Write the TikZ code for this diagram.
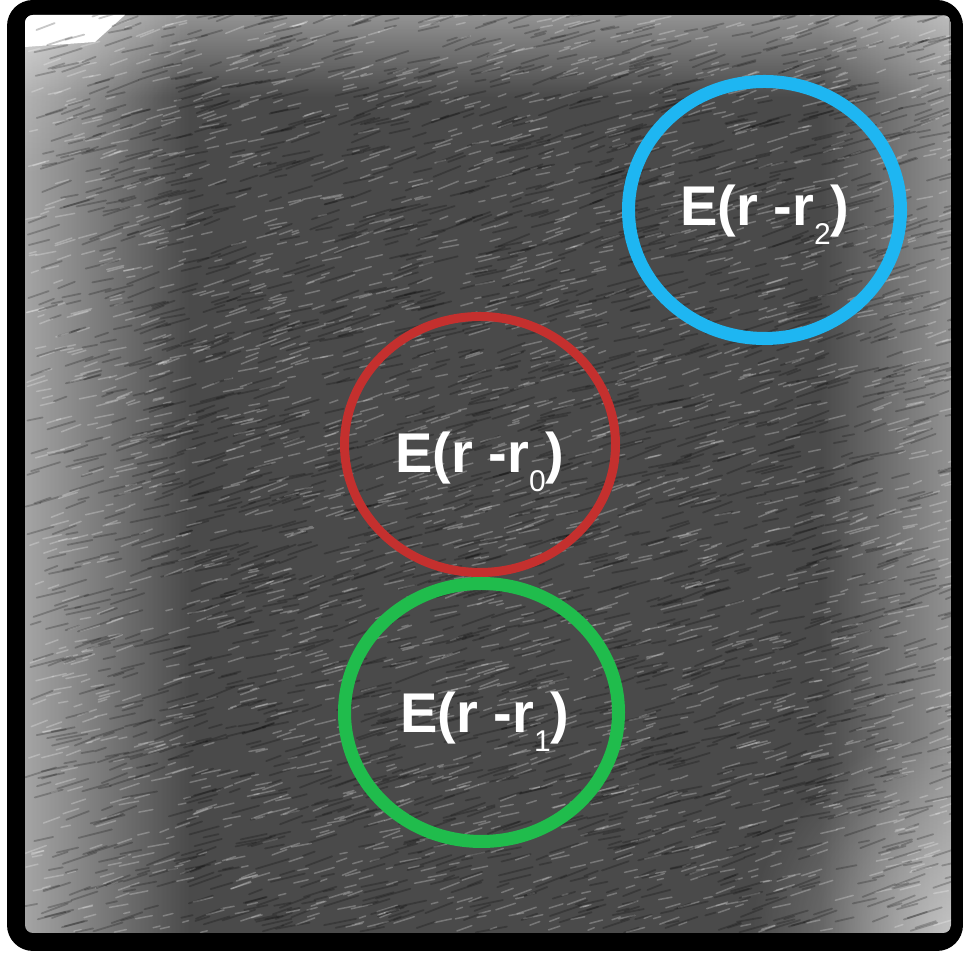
\documentclass[tikz,border=0pt]{standalone}
\usepackage{fontspec}
\setmainfont{Liberation Sans}
\usetikzlibrary{fadings}

\definecolor{bluering}{HTML}{1EB6F2}
\definecolor{redring}{HTML}{C4302E}
\definecolor{greenring}{HTML}{20BC4C}

\tikzfading[name=fadetoright, left color=transparent!0, right color=transparent!100]
\tikzfading[name=fadetoleft, left color=transparent!100, right color=transparent!0]
\tikzfading[name=fadedown, top color=transparent!0, bottom color=transparent!100]
\tikzfading[name=softspot, inner color=transparent!0, outer color=transparent!100]

\newcommand{\energylabel}[1]{\fontsize{56}{60}\selectfont\bfseries E(r -r\raisebox{-19pt}{\fontsize{30}{32}\selectfont\mdseries #1})}

\tikzset{
  ring/.style={line width=#1},
  ringlabel/.style={text=white, inner sep=0pt, anchor=base}
}

\begin{document}
\begin{tikzpicture}[x=1pt,y=1pt]

        \useasboundingbox (0,0) rectangle (963,957);

        % Marco negro
        \fill[black, rounded corners=26] (7,6) rectangle (963,957);

        % Fondo con textura
        \begin{scope}
        \clip[rounded corners=8] (25,24) rectangle (951,942);
        \fill[black!71] (25,24) rectangle (951,942);
        \fill[white, opacity=0.5, path fading=fadetoright] (25,24) rectangle (190,942);
        \fill[white, opacity=0.4, path fading=fadetoleft] (820,24) rectangle (951,942);
        \fill[white, opacity=0.4, path fading=fadedown] (25,860) rectangle (951,942);
        \fill[white, opacity=0.45, path fading=softspot] (951,24) circle (200);
        \fill[white, opacity=0.3, path fading=softspot] (25,942) circle (160);
        \fill[white] (25,942) -- (125,942) -- (95,915) -- (25,910) -- cycle;

        \pgfmathsetseed{7}
        \foreach \i in {1,...,2600} {
          \pgfmathsetmacro{\px}{25+926*rnd}
          \pgfmathsetmacro{\py}{24+918*rnd}
          \pgfmathsetmacro{\len}{6+16*rnd}
          \pgfmathsetmacro{\ang}{10+12*rnd}
          \draw[white, opacity=0.25, line width=1.5, line cap=round]
            (\px,\py) -- ++(\ang:\len);
        }
        \foreach \i in {1,...,2600} {
          \pgfmathsetmacro{\px}{25+926*rnd}
          \pgfmathsetmacro{\py}{24+918*rnd}
          \pgfmathsetmacro{\len}{10+26*rnd}
          \pgfmathsetmacro{\ang}{10+12*rnd}
          \draw[black, opacity=0.22, line width=1.8, line cap=round]
            (\px,\py) -- ++(\ang:\len);
        }
        \end{scope}

        % Centros de los anillos
        \coordinate (c2) at (764.5,747);
        \coordinate (c0) at (480,512.5);
        \coordinate (c1) at (481.5,244.5);

        \draw[bluering, ring=13] (c2) ellipse [x radius=136, y radius=128.5];
        \draw[redring, ring=9] (c0) ellipse [x radius=135.5, y radius=128];
        \draw[greenring, ring=13] (c1) ellipse [x radius=137, y radius=129];

        % Etiquetas
        \node[ringlabel] (e2) at (765,731) {\energylabel{2}};
        \node[ringlabel] (e0) at (480,484) {\energylabel{0}};
        \node[ringlabel] (e1) at (485,224) {\energylabel{1}};

    \end{tikzpicture}
\end{document}
